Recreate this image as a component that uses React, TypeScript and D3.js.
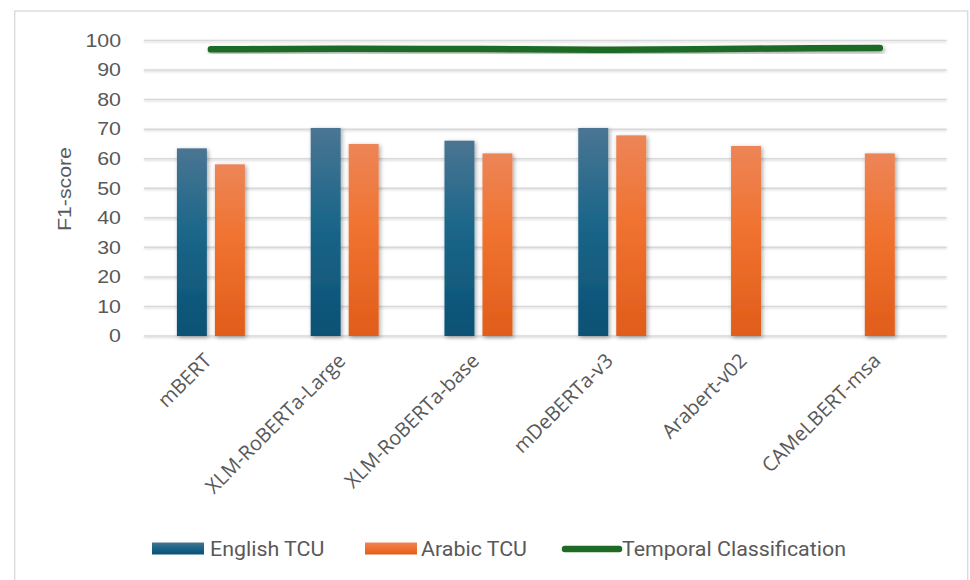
import React from "react";
import * as d3 from "d3";

const models = ["mBERT", "XLM-RoBERTa-Large", "XLM-RoBERTa-base", "mDeBERTa-v3", "Arabert-v02", "CAMeLBERT-msa"];
const englishTCU: (number | null)[] = [63.5, 70.4, 66.1, 70.4, null, null];
const arabicTCU: number[] = [58.1, 65.0, 61.8, 67.9, 64.3, 61.8];
const temporalClassification: number[] = [97.0, 97.2, 97.1, 96.9, 97.2, 97.5];
const yTicks = [0, 10, 20, 30, 40, 50, 60, 70, 80, 90, 100];

const W = 970;
const H = 580;
const plotLeft = 144;
const plotRight = 946.7;
const plotTop = 40.5;
const plotBottom = 336;

const textColor = "#595959";
// legend text is drawn slightly wider than its natural width
const stretch = 1.07;

export default function App() {
  const x = d3.scaleBand<string>().domain(models).range([plotLeft, plotRight]);
  const y = d3.scaleLinear().domain([0, 100]).range([plotBottom, plotTop]);
  const step = x.bandwidth();
  const barW = step * 0.224;
  const gap = step * 0.06;

  const line = d3
    .line<number>()
    .x((_, i) => (x(models[i]) as number) + step / 2)
    .y((d) => y(d))
    .curve(d3.curveMonotoneX);

  const legendFont = "Roboto, 'Liberation Sans', sans-serif";

  return (
    <svg width={W} height={H} style={{ position: "absolute", left: 0, top: 0, background: "#fff" }}>
      <defs>
        <linearGradient id="gBlue" x1="0" y1="0" x2="0" y2="1">
          <stop offset="0%" stopColor="#4a7592" />
          <stop offset="45%" stopColor="#1b6689" />
          <stop offset="100%" stopColor="#0a5174" />
        </linearGradient>
        <linearGradient id="gOrange" x1="0" y1="0" x2="0" y2="1">
          <stop offset="0%" stopColor="#ed8557" />
          <stop offset="45%" stopColor="#f0722f" />
          <stop offset="100%" stopColor="#e05d1a" />
        </linearGradient>
        <filter id="shadow" x="-30%" y="-10%" width="160%" height="130%">
          <feDropShadow dx="1.5" dy="1.5" stdDeviation="2" floodColor="#000" floodOpacity="0.35" />
        </filter>
        <filter id="lineShadow" x="-5%" y="-200%" width="110%" height="500%">
          <feDropShadow dx="1.5" dy="2" stdDeviation="2" floodColor="#000" floodOpacity="0.35" />
        </filter>
        <filter id="gridShadow" x="-1%" y="-300%" width="102%" height="700%">
          <feDropShadow dx="0" dy="1" stdDeviation="1" floodColor="#000" floodOpacity="0.18" />
        </filter>
      </defs>

      {/* chart frame */}
      <rect x={14.7} y={11} width={953} height={600} fill="#fff" stroke="#d9d9d9" strokeWidth={1.3} />

      {/* gridlines */}
      <g filter="url(#gridShadow)">
        {yTicks.map((t) => (
          <line key={t} x1={plotLeft} x2={plotRight} y1={y(t)} y2={y(t)} stroke="#d9d9d9" strokeWidth={1.5} />
        ))}
      </g>

      {/* y tick labels */}
      <g fill={textColor} fontFamily="'Liberation Sans', Arial, sans-serif" fontSize={17.5}>
        {yTicks.map((t) => (
          <text key={t} transform={`translate(121,${y(t)}) scale(1.22,1)`} textAnchor="end" dominantBaseline="central">
            {t}
          </text>
        ))}
      </g>

      {/* y axis title */}
      <text
        transform={`translate(71,189) rotate(-90) scale(1.15,1)`}
        textAnchor="middle"
        fill={textColor}
        fontFamily="'Liberation Sans', Arial, sans-serif"
        fontSize={18.5}
      >
        F1-score
      </text>

      {/* bars */}
      <g filter="url(#shadow)">
        {models.map((m, i) => {
          const cx = (x(m) as number) + step / 2;
          const e = englishTCU[i];
          const a = arabicTCU[i];
          return (
            <g key={m}>
              {e !== null && (
                <rect x={cx - gap / 2 - barW} y={y(e)} width={barW} height={plotBottom - y(e)} fill="url(#gBlue)" />
              )}
              {e !== null ? (
                <rect x={cx + gap / 2} y={y(a)} width={barW} height={plotBottom - y(a)} fill="url(#gOrange)" />
              ) : (
                <rect x={cx - barW / 2} y={y(a)} width={barW} height={plotBottom - y(a)} fill="url(#gOrange)" />
              )}
            </g>
          );
        })}
      </g>

      {/* temporal classification line */}
      <path
        d={line(temporalClassification) as string}
        fill="none"
        stroke="#1e6b26"
        strokeWidth={6.5}
        strokeLinecap="round"
        filter="url(#lineShadow)"
      />

      {/* x labels */}
      <g fill={textColor} fontFamily="'Open Sans', 'Noto Sans', sans-serif" fontSize={20}>
        {models.map((m) => {
          const cx = (x(m) as number) + step / 2;
          return (
            <text key={m} transform={`translate(${cx + 2},${362}) rotate(-45)`} textAnchor="end">
              {m}
            </text>
          );
        })}
      </g>

      {/* legend */}
      <g fontFamily={legendFont} fontSize={20} fill={textColor}>
        <rect x={152} y={542.5} width={52} height={12} fill="url(#gBlue)" />
        <text transform={`translate(210,549) scale(${stretch},1)`} dominantBaseline="central">English TCU</text>
        <rect x={365} y={542.5} width={52} height={12} fill="url(#gOrange)" />
        <text transform={`translate(421,549) scale(${stretch},1)`} dominantBaseline="central">Arabic TCU</text>
        <line x1={565} x2={619} y1={549} y2={549} stroke="#1e6b26" strokeWidth={6.5} strokeLinecap="round" />
        <text transform={`translate(622,549) scale(${stretch},1)`} dominantBaseline="central">Temporal Classification</text>
      </g>
    </svg>
  );
}
